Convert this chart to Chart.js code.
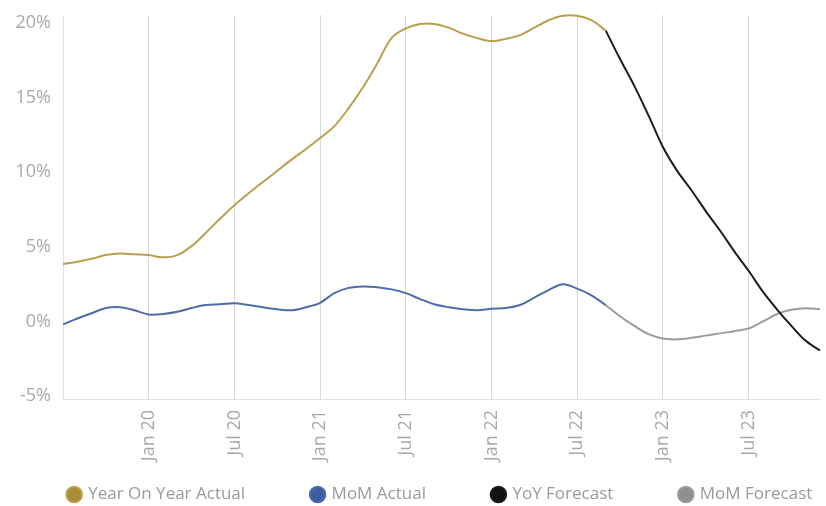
<!DOCTYPE html>
<html><head><meta charset="utf-8">
<script src="https://cdn.jsdelivr.net/npm/chart.js@4/dist/chart.umd.min.js"></script>
<style>html,body{margin:0;padding:0;background:#fff}</style>
</head><body>
<canvas id="c" width="826" height="506"></canvas>
<script>
const months = ["Jul 19","Aug 19","Sep 19","Oct 19","Nov 19","Dec 19",
"Jan 20","Feb 20","Mar 20","Apr 20","May 20","Jun 20","Jul 20","Aug 20","Sep 20","Oct 20","Nov 20","Dec 20",
"Jan 21","Feb 21","Mar 21","Apr 21","May 21","Jun 21","Jul 21","Aug 21","Sep 21","Oct 21","Nov 21","Dec 21",
"Jan 22","Feb 22","Mar 22","Apr 22","May 22","Jun 22","Jul 22","Aug 22","Sep 22","Oct 22","Nov 22","Dec 22",
"Jan 23","Feb 23","Mar 23","Apr 23","May 23","Jun 23","Jul 23","Aug 23","Sep 23","Oct 23","Nov 23","Dec 23"];

const shownTicks = ["Jan 20","Jul 20","Jan 21","Jul 21","Jan 22","Jul 22","Jan 23","Jul 23"];
const yTicks = [-5, 0, 5, 10, 15, 20];

const yoyActual = [3.85,4.0,4.2,4.45,4.55,4.5,4.45,4.3,4.45,5.05,5.95,6.9,7.8,8.6,9.35,10.1,10.85,11.55,12.3,13.1,14.3,15.7,17.3,19.0,19.65,19.95,19.95,19.7,19.3,19.0,18.8,18.95,19.2,19.7,20.2,20.5,20.5,20.2,19.5,
null,null,null,null,null,null,null,null,null,null,null,null,null,null,null];
const yoyForecast = [null,null,null,null,null,null,null,null,null,null,null,null,null,null,null,null,null,null,null,null,null,null,null,null,null,null,null,null,null,null,null,null,null,null,null,null,null,null,
19.5,17.6,15.8,13.8,11.7,10.1,8.8,7.4,6.1,4.7,3.4,2.0,0.8,-0.3,-1.3,-1.95];
const momActual = [-0.2,0.2,0.55,0.9,0.95,0.75,0.47,0.5,0.65,0.9,1.1,1.15,1.22,1.1,0.95,0.82,0.75,0.95,1.25,1.9,2.25,2.35,2.3,2.15,1.9,1.5,1.15,0.95,0.82,0.75,0.85,0.9,1.1,1.6,2.1,2.5,2.2,1.75,1.1,
null,null,null,null,null,null,null,null,null,null,null,null,null,null,null];
const momForecast = [null,null,null,null,null,null,null,null,null,null,null,null,null,null,null,null,null,null,null,null,null,null,null,null,null,null,null,null,null,null,null,null,null,null,null,null,null,null,
1.1,0.35,-0.3,-0.85,-1.15,-1.2,-1.1,-0.95,-0.8,-0.65,-0.47,0.0,0.5,0.78,0.88,0.82];

const FONT = "'Open Sans', 'Noto Sans', sans-serif";
const LEGEND_PAD = 67;
const LEGEND_FONT = 17;

const lineDs = (label, data, line, dot) => ({
  label, data, borderColor: line, backgroundColor: dot, borderWidth: 2,
  pointRadius: 0, pointHoverRadius: 0, tension: 0.35, fill: false, spanGaps: false, clip: false
});

// single-row legend with wide spacing, kept compact vertically
const legendPlacement = {
  id: 'legendPlacement',
  beforeLayout(chart) {
    const lg = chart.legend;
    if (lg && !lg._patched) {
      const orig = lg.fit.bind(lg);
      lg.fit = function () {
        const mw = this.maxWidth;
        this.maxWidth = 3000;
        orig();
        this.maxWidth = mw;
        this.width = mw;
        this.height = 42;
      };
      lg._patched = true;
    }
  },
  afterLayout(chart) {
    const lg = chart.legend;
    if (!lg) return;
    lg.top = 486 - LEGEND_PAD;
    lg.bottom = 530;
    lg.left = -45;
    lg.right = 926;
  }
};

new Chart(document.getElementById('c'), {
  type: 'line',
  data: {
    labels: months,
    datasets: [
      lineDs('Year On Year Actual', yoyActual, '#b8a04e', '#a88d38'),
      lineDs('MoM Actual', momActual, '#4f6ca8', '#3f5da3'),
      lineDs('YoY Forecast', yoyForecast, '#1d1d1d', '#111111'),
      lineDs('MoM Forecast', momForecast, '#9c9c9c', '#8e8e8e')
    ]
  },
  plugins: [legendPlacement],
  options: {
    responsive: false,
    animation: false,
    devicePixelRatio: 1,
    layout: { padding: { top: 15, right: 6, left: 0, bottom: 0 } },
    plugins: {
      tooltip: { enabled: false },
      legend: {
        position: 'bottom',
        labels: {
          usePointStyle: true, pointStyle: 'circle', boxWidth: 11, boxHeight: 11,
          padding: LEGEND_PAD, color: '#9a9a9a', font: { family: FONT, size: LEGEND_FONT }
        }
      }
    },
    scales: {
      x: {
        type: 'category',
        afterBuildTicks: (axis) => {
          axis.ticks = axis.ticks.filter(t => shownTicks.includes(months[t.value]));
        },
        afterFit: (s) => { s.height = 65; s.paddingLeft = 0; s.paddingRight = 0; },
        grid: { display: true, color: '#d8d8d8', lineWidth: 1, drawTicks: false },
        border: { display: true, color: '#e3e3e3' },
        ticks: {
          autoSkip: false, minRotation: 90, maxRotation: 90, padding: 11,
          color: '#a8a8a8', font: { family: FONT, size: 18 },
          callback: function (v) { return this.getLabelForValue(v); }
        }
      },
      y: {
        min: -5.2, max: 20.55,
        afterBuildTicks: (axis) => { axis.ticks = yTicks.map(v => ({ value: v })); },
        afterFit: (s) => { s.width = 63; s.paddingTop = 0; s.paddingBottom = 0; },
        grid: { display: false, drawTicks: false },
        border: { display: true, color: '#e3e3e3' },
        ticks: {
          padding: 12, color: '#a8a8a8', font: { family: FONT, size: 18 },
          callback: (v) => v + '%'
        }
      }
    }
  }
});
</script>
</body></html>
